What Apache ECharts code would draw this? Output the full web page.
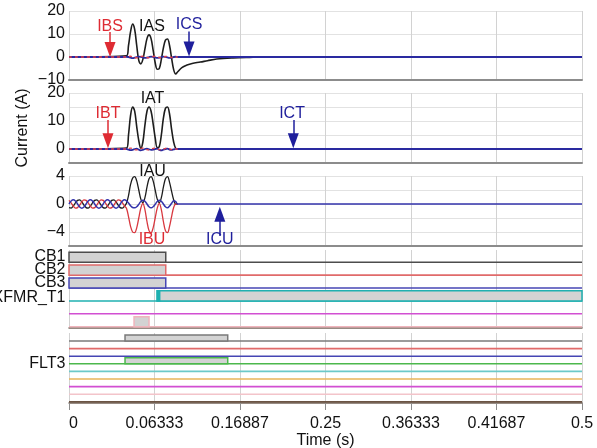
<!DOCTYPE html>
<html>
<head>
<meta charset="utf-8">
<script src="https://cdn.jsdelivr.net/npm/echarts@6/dist/echarts.min.js"></script>
<style>
  html, body { margin: 0; padding: 0; background: #fff; }
  #chart { width: 597px; height: 448px; }
</style>
</head>
<body>
<div id="chart"></div>
<script>
// ---------- time axis ----------
const timeTickLabels = ['0', '0.06333', '0.16887', '0.25', '0.36333', '0.41687', '0.5'];

// ---------- analog samples ----------
// steady-state samples before energisation (1/480 s step)
const tPre = [0, 0.00208, 0.00417, 0.00625, 0.00833, 0.01042, 0.0125, 0.01458, 0.01667,
  0.01875, 0.02083, 0.02292, 0.025, 0.02708, 0.02917, 0.03125, 0.03333, 0.03542, 0.0375,
  0.03958, 0.04167, 0.04375, 0.04583, 0.04792, 0.05, 0.05208, 0.05417];
const iauPre = [-0.52, -0.58, -0.3, 0.16, 0.52, 0.58, 0.3, -0.16, -0.52, -0.58, -0.3, 0.16, 0.52, 0.58,
  0.3, -0.16, -0.52, -0.58, -0.3, 0.16, 0.52, 0.58, 0.3, -0.16, -0.52, -0.58, -0.3];
const ibuPre = [0.52, 0.16, -0.3, -0.58, -0.52, -0.16, 0.3, 0.58, 0.52, 0.16, -0.3, -0.58, -0.52, -0.16,
  0.3, 0.58, 0.52, 0.16, -0.3, -0.58, -0.52, -0.16, 0.3, 0.58, 0.52, 0.16, -0.3];
const icuPre = [0, 0.42, 0.6, 0.42, 0, -0.42, -0.6, -0.42, 0, 0.42, 0.6, 0.42, 0, -0.42,
  -0.6, -0.42, 0, 0.42, 0.6, 0.42, 0, -0.42, -0.6, -0.42, 0, 0.42, 0.6];

// inrush window (2 ms step)
const tInrush = [0.056, 0.058, 0.060, 0.062, 0.064, 0.066, 0.068, 0.070, 0.072, 0.074, 0.076, 0.078, 0.080,
  0.082, 0.084, 0.086, 0.088, 0.090, 0.092, 0.094, 0.096, 0.098, 0.100, 0.102, 0.104, 0.106];

const iasInrush = [0.5, 5, 11, 14.3, 12, 5, -1.5, -3, -1, 3.5, 8, 9.6, 8, 3, -2.5, -5.3, -5, -1, 4, 7.3, 7.8, 5, -0.5, -5.5, -7.4, -6.4];
const ibsInrush = [0, 0.2, 0.3, 0.1, -0.2, -0.3, -0.1, 0.2, 0.3, 0.1, -0.2, -0.3, -0.1, 0.2, 0.3, 0.1, -0.2, -0.3, -0.1, 0.2, 0.3, 0.1, -0.2, -0.2, 0, 0];
const icsInrush = [0.1, 0, -0.3, -0.5, -0.3, 0, 0.2, 0.1, -0.2, -0.4, -0.3, 0, 0.2, 0.1, -0.2, -0.4, -0.3, 0, 0.2, 0.1, -0.2, -0.4, -0.3, 0, 0.1, 0];
const tIasTail = [0.110, 0.115, 0.120, 0.128, 0.135, 0.144, 0.160, 0.176, 0.190, 0.257];
const iasTail = [-4.6, -3.5, -2.8, -2.2, -1.6, -0.9, -0.4, -0.15, 0, 0];

const iatInrush = [0.3, 5, 12, 15, 13.5, 8, 3, 0.2, 2.5, 8.5, 13.5, 15, 13.5, 9, 4, 0.5, 0.8, 5, 11, 14.5, 15, 12.5, 7, 2.5, 0.2, 0];
const ibtInrush = [0, 0.2, 0.3, 0.1, -0.2, -0.3, -0.1, 0.2, 0.3, 0.1, -0.2, -0.3, -0.1, 0.2, 0.3, 0.1, -0.2, -0.3, -0.1, 0.2, 0.3, 0.1, -0.2, -0.2, 0, 0];
const ictInrush = [0, -0.2, -0.4, -0.3, 0, 0.1, -0.2, -0.5, -0.3, 0, 0.1, -0.1, -0.3, -0.2, 0, 0.1, -0.3, -0.5, -0.2, 0, 0.1, -0.2, -0.3, -0.1, 0, 0];
const tIatTail = [0.285];
const iatTail = [0];

const iauInrush = [0.1, 1.2, 2.8, 3.7, 3.9, 3.3, 2.0, 0.7, 0.2, 0.9, 2.4, 3.6, 3.9, 3.3, 2.0, 0.7, 0.2, 0.9, 2.4, 3.6, 3.9, 3.1, 1.8, 0.6, 0, 0];
const ibuInrush = [-0.6, -1.8, -3.2, -4.0, -4.1, -3.4, -2.0, -0.6, 0.1, -0.8, -2.5, -3.8, -4.1, -3.4, -2.0, -0.6, 0.1, -0.8, -2.5, -3.8, -4.1, -3.2, -1.8, -0.5, 0, 0];
const icuInrush = [0.45, 0.15, -0.25, -0.5, -0.55, -0.4, -0.05, 0.35, 0.55, 0.4, 0, -0.4, -0.55, -0.4, -0.05, 0.35, 0.55, 0.4, 0, -0.4, -0.55, -0.3, 0.1, 0.45, 0.35, 0];

// ---------- digital channels ----------
const digitalNamesA = ['CB1', 'CB2', 'CB3', 'XFMR_T1', '', ''];
const digitalOnA = [
  [[0, 0.0943]],          // CB1
  [[0, 0.0943]],          // CB2
  [[0, 0.0943]],          // CB3
  [[0.0862, 0.5]],        // XFMR_T1
  [],                     // (magenta)
  [[0.0634, 0.0780]]      // (pink)
];
const xfmrPickup = [[0.0858, 0.0884]];
const digitalNamesB = ['', '', '', 'FLT3', '', '', '', '', ''];
const digitalOnB = [
  [[0.0546, 0.1547]],
  [], [],
  [[0.0546, 0.1547]],     // FLT3
  [], [], [], [], []
];

// ---------- styling ----------
const FONT = "'Liberation Sans', Arial, Helvetica, sans-serif";
const TXT = '#111';
const BLACK = '#1d1d1d', RED = '#de2b33', BLUE = '#1f1f9c';
const colorsA = ['#4d4d4d', '#e06a6a', '#4646b4', '#1fb0b0', '#d24fd2', '#f0b4bc'];
const colorsB = ['#7a7a7a', '#e06a6a', '#4646b4', '#4cb84c', '#6cc9c9', '#e8b458', '#d24fd2', '#f3c4ca', '#6b5444'];

const zip = (t, v) => t.map((x, i) => [x, v[i]]);
const minus = v => (v < 0 ? '\u2212' + (-v) : String(v));

const grids = [
  { left: 69, right: 15, top: 11, height: 69 },
  { left: 69, right: 15, top: 93, height: 70 },
  { left: 69, right: 15, top: 176, height: 70 },
  { left: 69, right: 15, top: 250, height: 78 },
  { left: 69, right: 15, top: 333, height: 70 }
].map(g => Object.assign(g, { outerBoundsMode: 'none', containLabel: false }));

const xAxes = grids.map((g, i) => ({
  type: 'value', gridIndex: i, min: 0, max: 0.5, interval: 1 / 12,
  axisLine: { show: true, onZero: false, lineStyle: { color: i < 3 ? '#8c8c8c' : '#76655b', width: i < 3 ? 2 : 1.5 } },
  axisTick: { show: i === 4, length: 7, lineStyle: { color: '#8c8c8c' } },
  axisLabel: {
    show: i === 4, fontSize: 16, color: TXT, margin: 13, fontFamily: FONT,
    alignMinLabel: 'left',
    formatter: v => timeTickLabels[Math.round(v * 12)] ?? ''
  },
  splitLine: { show: true, lineStyle: { color: '#d2d2d2', width: 1 } },
  name: i === 4 ? 'Time (s)' : '',
  nameLocation: 'middle', nameGap: 29,
  nameTextStyle: { fontSize: 16, color: TXT, fontFamily: FONT }
}));

// row geometry of the digital panels (value units)
const rowBaseA = i => -(0.95 + i);
const rowBaseB = i => -(1.05 + i);
const boxA = 0.78, boxB = 0.79;
const labelOffA = i => (i === 3 ? 0.25 : 0.42);
const labelOffB = () => 0.06;

function analogY(idx, min, max, interval, labels, extra) {
  return Object.assign({
    type: 'value', gridIndex: idx, min, max, interval,
    axisLine: { show: false }, axisTick: { show: false },
    axisLabel: {
      fontSize: 16, color: TXT, margin: 4, fontFamily: FONT, customValues: labels, formatter: minus,
      hideOverlap: false, showMinLabel: true, showMaxLabel: true
    },
    splitLine: { show: true, lineStyle: { color: '#e2e2e2', width: 1 } }
  }, extra || {});
}

function digitalY(idx, min) {
  return {
    type: 'value', gridIndex: idx, min, max: 0,
    axisLine: { show: false }, axisTick: { show: false }, splitLine: { show: false },
    axisLabel: { show: false }
  };
}

const yAxes = [
  analogY(0, -10, 20, 10, [-10, 0, 10, 20]),
  analogY(1, -5, 20, 5, [0, 10, 20], {
    name: 'Current (A)', nameLocation: 'middle', nameGap: 38, nameRotate: 90,
    nameTextStyle: { fontSize: 16, color: TXT, fontFamily: FONT }
  }),
  analogY(2, -6, 4, 2, [-4, 0, 4]),
  digitalY(3, -6.05),
  digitalY(4, -9.2)
];

// ---------- annotation helpers ----------
const HEAD_W = 11, HEAD_H = 15;
// value units per pixel on the y axis of an analog panel
const unitsPerPx = idx => (yAxes[idx].max - yAxes[idx].min) / grids[idx].height;

// arrow whose tip touches (x, tip); the triangle head is centred on the line end
function arrowLine(idx, color, x, from, tip) {
  const dir = tip < from ? 1 : -1;
  const end = tip + dir * (HEAD_H / 2) * unitsPerPx(idx);
  return {
    silent: true, animation: false,
    symbol: ['none', 'triangle'],
    lineStyle: { color, width: 1.5, type: 'solid' },
    itemStyle: { color },
    label: { show: false },
    data: [[{ coord: [x, from], symbol: 'none' },
            { coord: [x, end], symbol: 'triangle', symbolSize: [HEAD_W, HEAD_H] }]]
  };
}
// text tags; [text, colour, x, y, dy] with dy a pixel nudge
function tags(items) {
  return {
    silent: true, animation: false, symbol: 'circle', symbolSize: 1,
    itemStyle: { color: 'rgba(0,0,0,0)' },
    label: { show: true, position: 'inside', fontSize: 16, fontFamily: FONT },
    data: items.map(([text, color, x, y, dy]) => ({
      coord: [x, y], label: { formatter: text, color, offset: [0, dy || 0] }
    }))
  };
}

function analogLine(name, idx, data, color, width, extra) {
  return Object.assign({
    name, type: 'line', xAxisIndex: idx, yAxisIndex: idx, data,
    showSymbol: false, symbol: 'none', smooth: 0.35, animation: false,
    lineStyle: { color, width }, itemStyle: { color }
  }, extra || {});
}

const series = [
  // panel 1: S currents
  analogLine('IAS', 0, [[0, 0]].concat(zip(tInrush, iasInrush), zip(tIasTail, iasTail)), BLACK, 1.6, {
    z: 2, markPoint: tags([['IAS', TXT, 0.0809, 13.3]])
  }),
  analogLine('ICS', 0, [[0, 0], [0.054, 0]].concat(zip(tInrush, icsInrush), [[0.5, 0]]), '#2a2aa0', 1.8, {
    z: 3, markLine: arrowLine(0, BLUE, 0.117, 11.1, 0.2), markPoint: tags([['ICS', BLUE, 0.117, 14]])
  }),
  analogLine('IBS', 0, [[0, 0]].concat(zip(tInrush, ibsInrush)), '#e0404a', 1.4, {
    z: 4, lineStyle: { color: '#e0404a', width: 1.4, type: [3, 3] },
    markLine: arrowLine(0, RED, 0.040, 10.9, 0), markPoint: tags([['IBS', RED, 0.040, 13.3]])
  }),

  // panel 2: T currents
  analogLine('IAT', 1, [[0, 0]].concat(zip(tInrush, iatInrush), zip(tIatTail, iatTail)), BLACK, 1.6, {
    z: 2, markPoint: tags([['IAT', TXT, 0.0814, 17.9]])
  }),
  analogLine('ICT', 1, [[0, 0], [0.054, 0]].concat(zip(tInrush, ictInrush), [[0.5, 0]]), '#2a2aa0', 1.8, {
    z: 3, markLine: arrowLine(1, BLUE, 0.2186, 10.4, 0.25), markPoint: tags([['ICT', BLUE, 0.2174, 12.75]])
  }),
  analogLine('IBT', 1, [[0, 0]].concat(zip(tInrush, ibtInrush)), '#e0404a', 1.4, {
    z: 4, lineStyle: { color: '#e0404a', width: 1.4, type: [3, 3] },
    markLine: arrowLine(1, RED, 0.038, 10.4, 0.25), markPoint: tags([['IBT', RED, 0.038, 12.75]])
  }),

  // panel 3: U currents
  analogLine('IAU', 2, zip(tPre, iauPre).concat(zip(tInrush, iauInrush)), BLACK, 1.3, {
    z: 2, markPoint: tags([['IAU', TXT, 0.0814, 4, -4]])
  }),
  analogLine('IBU', 2, zip(tPre, ibuPre).concat(zip(tInrush, ibuInrush)), '#d8383f', 1.3, {
    z: 3, markPoint: tags([['IBU', RED, 0.0809, -5.14]])
  }),
  analogLine('ICU', 2, zip(tPre, icuPre).concat(zip(tInrush, icuInrush), [[0.5, 0]]), '#3434ac', 1.5, {
    z: 4, markLine: arrowLine(2, BLUE, 0.147, -4.57, -0.38), markPoint: tags([['ICU', BLUE, 0.147, -5.14]])
  })
];

// digital channels: level lines (with channel names) + boxes for the asserted intervals
function digitalPanel(idx, names, onLists, colors, base, h, labelOff, extraBoxes) {
  names.forEach((n, i) => {
    const s = {
      type: 'line', xAxisIndex: idx, yAxisIndex: idx, animation: false, silent: true,
      showSymbol: false, symbol: 'none', z: 2,
      data: [[0, base(i)], [0.5, base(i)]],
      lineStyle: { color: colors[i], width: 1.6 }
    };
    if (n) {
      s.markPoint = {
        silent: true, animation: false, symbol: 'circle', symbolSize: 1,
        itemStyle: { color: 'rgba(0,0,0,0)' },
        label: { show: true, position: 'left', distance: 3, fontSize: 16, color: TXT, fontFamily: FONT, formatter: n },
        data: [{ coord: [0, base(i) + labelOff(i)] }]
      };
    }
    series.push(s);
  });
  const boxes = [];
  onLists.forEach((list, i) => list.forEach(([t0, t1]) => boxes.push([t0, t1, base(i), base(i) + h, i, 0])));
  (extraBoxes || []).forEach(([row, list]) => list.forEach(([t0, t1]) => boxes.push([t0, t1, base(row), base(row) + h, row, 1])));
  series.push({
    type: 'custom', xAxisIndex: idx, yAxisIndex: idx, animation: false, silent: true, z: 3,
    data: boxes,
    renderItem: (params, api) => {
      const a = api.coord([api.value(0), api.value(3)]);
      const b = api.coord([api.value(1), api.value(2)]);
      const c = colors[api.value(4)];
      const solid = api.value(5) === 1;
      return {
        type: 'rect',
        shape: { x: a[0], y: a[1], width: b[0] - a[0], height: b[1] - a[1] },
        style: { fill: solid ? c : '#d3d3d3', stroke: c, lineWidth: 1.5 }
      };
    }
  });
}
digitalPanel(3, digitalNamesA, digitalOnA, colorsA, rowBaseA, boxA, labelOffA, [[3, xfmrPickup]]);
digitalPanel(4, digitalNamesB, digitalOnB, colorsB, rowBaseB, boxB, labelOffB);

const chart = echarts.init(document.getElementById('chart'), null, { renderer: 'canvas' });
chart.setOption({
  animation: false,
  backgroundColor: '#fff',
  textStyle: { fontFamily: FONT },
  grid: grids,
  xAxis: xAxes,
  yAxis: yAxes,
  series
});
</script>
</body>
</html>
